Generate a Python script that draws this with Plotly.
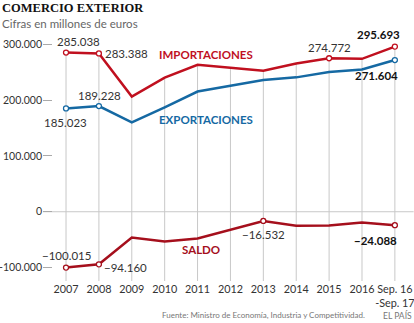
import plotly.graph_objects as go

categories = ["2007", "2008", "2009", "2010", "2011", "2012", "2013", "2014", "2015", "2016", "Sep. 16<br>-Sep. 17"]
importaciones = [285038, 283388, 206116, 240056, 263141, 257946, 252347, 265557, 274772, 273779, 295693]
exportaciones = [185023, 189228, 159890, 186780, 215230, 226115, 235814, 240582, 250241, 254530, 271604]
saldo = [-100015, -94160, -46227, -53276, -47911, -31831, -16532, -24975, -24531, -19249, -24088]
ytick_vals = [-100000, 0, 100000, 200000, 300000]
ytick_text = ["-100.000", "0", "100.000", "200.000", "300.000"]

RED = "#c0101f"
DARKRED = "#a50f1c"
BLUE = "#1569a3"
GRID = "#c8c8c8"
TXT = "#333333"
FONT = "Lato"

x = list(range(len(categories)))
ybottom = -124000

fig = go.Figure()

# vertical guide lines from import value down to bottom
vx, vy = [], []
for i, v in zip(x, importaciones):
    vx += [i, i, None]
    vy += [v, ybottom, None]
fig.add_trace(go.Scatter(x=vx, y=vy, mode="lines", line=dict(color=GRID, width=1),
                         hoverinfo="skip", showlegend=False))

def fmt(v):
    s = f"{abs(v):,}".replace(",", ".")
    return ("−" if v < 0 else "") + s

def series(vals, color, marked):
    fig.add_trace(go.Scatter(x=x, y=vals, mode="lines", line=dict(color=color, width=2.5),
                             showlegend=False, hoverinfo="skip"))
    fig.add_trace(go.Scatter(x=[x[i] for i in marked], y=[vals[i] for i in marked], mode="markers",
                             marker=dict(size=5, color="white", line=dict(color=color, width=1.3)),
                             showlegend=False, hoverinfo="skip"))

series(importaciones, RED, [0, 1, 8, 10])
series(exportaciones, BLUE, [0, 1, 10])
series(saldo, DARKRED, [0, 1, 6, 10])

def lab(i, vals, xs, ys, bold=False, xanchor="center"):
    v = vals[i]
    t = fmt(v)
    if bold:
        t = "<b>" + t + "</b>"
    fig.add_annotation(x=x[i], y=v, text=t, showarrow=False, xshift=xs, yshift=ys,
                       xanchor=xanchor, font=dict(family=FONT, size=11.5, color="#111" if bold else TXT))

lab(0, importaciones, 12, 11)
lab(1, importaciones, 4, 0, xanchor="left")
lab(8, importaciones, 0, 11)
lab(10, importaciones, -16, 12, bold=True)
lab(10, exportaciones, -18, -15, bold=True)
lab(0, exportaciones, -1, -14)
lab(1, exportaciones, 1, 11)
lab(0, saldo, 0, 12)
lab(1, saldo, 3, -3, xanchor="left")
lab(6, saldo, 0, -14)
lab(10, saldo, -19, -15, bold=True)

def name(text, xi, yv, color):
    fig.add_annotation(x=xi, y=yv, text="<b>" + text + "</b>", showarrow=False,
                       font=dict(family=FONT, size=11.5, color=color))

name("IMPORTACIONES", 4.25, 282000, RED)
name("EXPORTACIONES", 4.25, 165000, BLUE)
name("SALDO", 4.1, -68000, DARKRED)

fig.add_shape(type="line", xref="paper", x0=0, x1=1.01, yref="y", y0=0, y1=0,
              line=dict(color=GRID, width=1), layer="below")

fig.update_layout(
    width=414, height=323,
    margin=dict(l=43, r=4, t=33, b=42),
    paper_bgcolor="white", plot_bgcolor="white",
    xaxis=dict(range=[-0.7, 10.46], tickvals=x, ticktext=categories, showgrid=False,
               zeroline=False, showline=False, ticks="", ticklabeloverflow="allow",
               tickangle=0, automargin=False,
               tickfont=dict(family=FONT, size=10.8, color=TXT)),
    yaxis=dict(range=[ybottom, 320000], tickvals=ytick_vals, ticktext=ytick_text,
               showgrid=False, zeroline=False, showline=False, automargin=False,
               ticks="inside", ticklen=9, tickcolor="#aaa", tickwidth=1,
               ticklabeloverflow="allow",
               tickfont=dict(family=FONT, size=10.5, color=TXT)),
    font=dict(family=FONT),
)

fig.add_annotation(xref="paper", yref="paper", x=-43/367, y=1 + 25/248, xanchor="left", yanchor="middle",
                   text="<b>COMERCIO EXTERIOR</b>", showarrow=False,
                   font=dict(family="Liberation Serif", size=12.5, color="#111"))
fig.add_annotation(xref="paper", yref="paper", x=-43/367, y=1 + 10/248, xanchor="left", yanchor="middle",
                   text="Cifras en millones de euros", showarrow=False,
                   font=dict(family=FONT, size=11.5, color="#666"))
fig.add_annotation(xref="paper", yref="paper", x=(367 - 43) / 367, y=-34/248, xanchor="right", yanchor="middle",
                   text="Fuente: Ministro de Economía, Industria y Competitividad.", showarrow=False,
                   font=dict(family=FONT, size=8, color="#777"))
fig.add_annotation(xref="paper", yref="paper", x=(414 - 43) / 367, y=-34/248, xanchor="right", yanchor="middle",
                   text="EL PAÍS", showarrow=False,
                   font=dict(family=FONT, size=8.5, color="#777"))

fig.write_html("out.html")
